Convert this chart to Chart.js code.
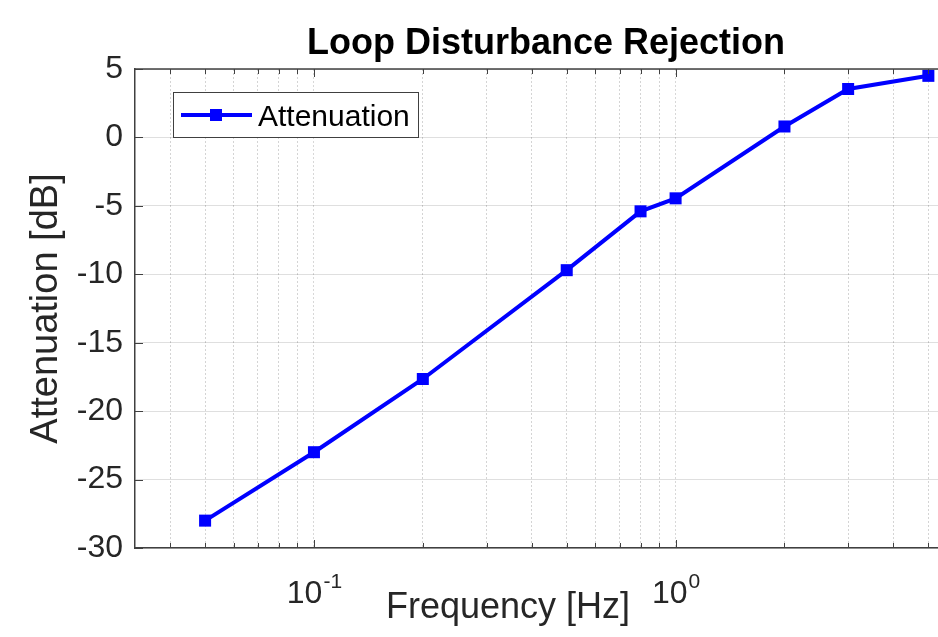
<!DOCTYPE html>
<html>
<head>
<meta charset="utf-8">
<script src="https://cdn.jsdelivr.net/npm/chart.js@4/dist/chart.umd.min.js"></script>
<style>
    html, body { margin: 0; padding: 0; background: #fff; }
    #wrap { width: 938px; height: 637px; position: relative; }
</style>
</head>
<body>
<div id="wrap"><canvas id="chart"></canvas></div>
<script>
// data
const FREQ = [0.05, 0.1, 0.2, 0.5, 0.8, 1, 2, 3, 5];
const ATTENUATION = [-28.0, -23.0, -17.65, -9.7, -5.4, -4.45, 0.8, 3.54, 4.5];
const X_GRID = [0.04, 0.05, 0.06, 0.07, 0.08, 0.09, 0.1, 0.2, 0.3, 0.4, 0.5, 0.6, 0.7, 0.8, 0.9, 1, 2, 3, 4, 5];
const X_DECADES = [0.1, 1];
const X_EXPONENTS = ['-1', '0'];
const Y_TICKS = [-30, -25, -20, -15, -10, -5, 0, 5];

const TEXT = '#262626';
const AXIS = '#404040';
const FONT = 'Arial, "Liberation Sans", Helvetica, sans-serif';
// the original axes run past the right edge of the picture
const AREA_RIGHT = 957;

const isDecade = v => X_DECADES.some(d => Math.abs(d - v) < 1e-9);

// matlab-style frame: top border, inward ticks, exponent labels, x title, boxed legend
const matlabFrame = {
    id: 'matlabFrame',
    afterLayout(chart) {
        const a = chart.chartArea;
        a.right = AREA_RIGHT;
        a.width = AREA_RIGHT - a.left;
        const x = chart.scales.x;
        x.right = AREA_RIGHT;
        x.width = AREA_RIGHT - x.left;
        x.configure();
        if (chart.titleBlock) {
            chart.titleBlock.right = AREA_RIGHT;
            chart.titleBlock.width = AREA_RIGHT - chart.titleBlock.left;
        }
    },
    afterDraw(chart) {
        const { ctx, chartArea: a, scales: { x, y } } = chart;
        ctx.save();
        ctx.strokeStyle = AXIS;
        ctx.lineWidth = 1.5;
        ctx.beginPath();
        ctx.moveTo(a.left, a.top);
        ctx.lineTo(a.right, a.top);
        ctx.stroke();

        // inward ticks
        ctx.lineWidth = 1;
        ctx.beginPath();
        X_GRID.forEach(v => {
            const px = Math.round(x.getPixelForValue(v)) + 0.5;
            const len = isDecade(v) ? 8 : 5;
            ctx.moveTo(px, a.bottom); ctx.lineTo(px, a.bottom - len);
            ctx.moveTo(px, a.top); ctx.lineTo(px, a.top + len);
        });
        Y_TICKS.forEach(v => {
            const py = Math.round(y.getPixelForValue(v)) + 0.5;
            ctx.moveTo(a.left, py); ctx.lineTo(a.left + 8, py);
        });
        ctx.stroke();

        // 10^n labels
        ctx.fillStyle = TEXT;
        ctx.textBaseline = 'alphabetic';
        X_DECADES.forEach((v, i) => {
            const px = x.getPixelForValue(v);
            ctx.font = '32px ' + FONT;
            const wBase = ctx.measureText('10').width;
            ctx.font = '21px ' + FONT;
            const wExp = ctx.measureText(X_EXPONENTS[i]).width;
            const start = px - (wBase + wExp) / 2;
            ctx.textAlign = 'left';
            ctx.font = '32px ' + FONT;
            ctx.fillText('10', start, a.bottom + 55);
            ctx.font = '21px ' + FONT;
            ctx.fillText(X_EXPONENTS[i], start + wBase + 1, a.bottom + 40);
        });

        // x axis title
        ctx.font = '36px ' + FONT;
        ctx.textAlign = 'center';
        ctx.fillText('Frequency [Hz]', 508, a.bottom + 70);

        // legend box
        const ds = chart.data.datasets[0];
        const lx = 173, ly = 92, lw = 245, lh = 45;
        ctx.fillStyle = '#fff';
        ctx.fillRect(lx, ly, lw, lh);
        ctx.strokeStyle = AXIS;
        ctx.lineWidth = 1;
        ctx.strokeRect(lx + 0.5, ly + 0.5, lw, lh);
        ctx.strokeStyle = ds.borderColor;
        ctx.lineWidth = ds.borderWidth;
        ctx.beginPath();
        ctx.moveTo(lx + 8, ly + 23);
        ctx.lineTo(lx + 79, ly + 23);
        ctx.stroke();
        ctx.fillStyle = ds.backgroundColor;
        ctx.fillRect(lx + 43 - 6, ly + 23 - 6, 12, 12);
        ctx.fillStyle = '#000';
        ctx.font = '30px ' + FONT;
        ctx.textAlign = 'left';
        ctx.fillText(ds.label, lx + 85, ly + 34);
        ctx.restore();
    }
};

new Chart(document.getElementById('chart'), {
    type: 'line',
    data: {
        datasets: [{
            label: 'Attenuation',
            data: FREQ.map((f, i) => ({ x: f, y: ATTENUATION[i] })),
            borderColor: '#0000ff',
            backgroundColor: '#0000ff',
            borderWidth: 4,
            pointStyle: 'rect',
            pointRadius: 8.5,
            pointHoverRadius: 8.5,
            pointBorderWidth: 0,
            tension: 0
        }]
    },
    options: {
        responsive: true,
        maintainAspectRatio: false,
        animation: false,
        plugins: {
            legend: { display: false },
            tooltip: { enabled: false },
            title: {
                display: true,
                text: 'Loop Disturbance Rejection',
                color: '#000',
                fullSize: false,
                font: { family: FONT, size: 36, weight: 'bold' },
                padding: { top: 22.7, bottom: 3.1 }
            }
        },
        scales: {
            x: {
                type: 'logarithmic',
                min: 0.032,
                max: 6,
                afterBuildTicks: s => { s.ticks = X_GRID.map(v => ({ value: v, major: isDecade(v) })); },
                afterFit: s => { s.height = 89; },
                ticks: { display: false },
                grid: {
                    drawTicks: false,
                    color: c => isDecade(c.tick && c.tick.value) ? 'rgba(38,38,38,0.18)' : 'rgba(38,38,38,0.2)',
                    lineWidth: 1
                },
                border: { color: AXIS, width: 1.5, dash: [2, 2] }
            },
            y: {
                min: -30,
                max: 5,
                afterBuildTicks: s => { s.ticks = Y_TICKS.map(v => ({ value: v })); },
                afterFit: s => { s.width = 135; },
                ticks: {
                    color: TEXT,
                    padding: 12,
                    font: { family: FONT, size: 32 }
                },
                grid: { drawTicks: false, color: 'rgba(38,38,38,0.15)', lineWidth: 1 },
                border: { color: AXIS, width: 1.5 },
                title: {
                    display: true,
                    text: 'Attenuation [dB]',
                    color: TEXT,
                    font: { family: FONT, size: 38 },
                    padding: { top: 24, bottom: 0 }
                }
            }
        }
    },
    plugins: [matlabFrame]
});
</script>
</body>
</html>
